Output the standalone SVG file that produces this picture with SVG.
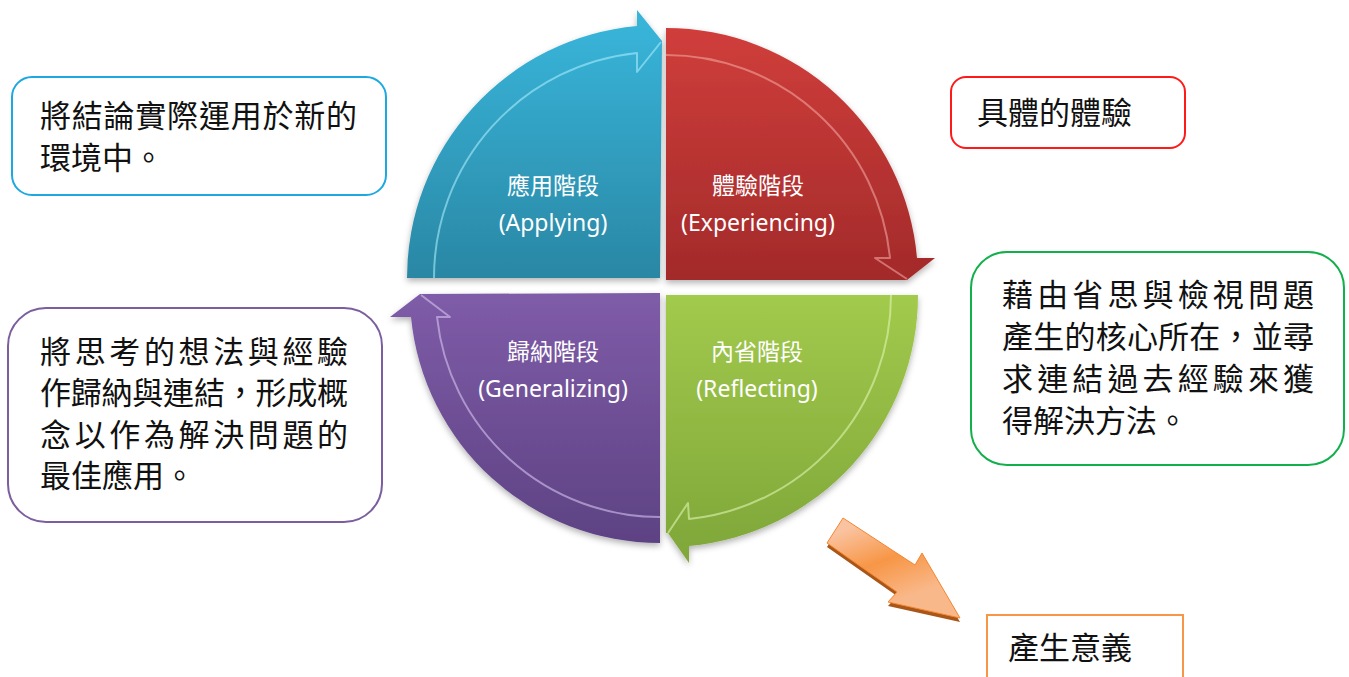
<svg xmlns="http://www.w3.org/2000/svg" width="1349" height="677" viewBox="0 0 1349 677">
<style>
.box{fill:#fff;stroke-width:2}
.bt{font-family:"Noto Sans CJK TC","Noto Sans CJK SC",sans-serif;font-size:31px;fill:#111}
.ql{font-family:"Noto Sans","Noto Sans CJK TC",sans-serif;font-size:23px;fill:#fff;text-anchor:middle}
.hl{fill:none;stroke-width:2;stroke-linejoin:round;opacity:0.6}
</style>
<defs>
<linearGradient id="gBlue" x1="0" y1="26" x2="0" y2="278" gradientUnits="userSpaceOnUse"><stop offset="0" stop-color="#38b4d9"/><stop offset="1" stop-color="#2a87a4"/></linearGradient>
<linearGradient id="gRed" x1="0" y1="28" x2="0" y2="280" gradientUnits="userSpaceOnUse"><stop offset="0" stop-color="#d03e3b"/><stop offset="1" stop-color="#a32a2a"/></linearGradient>
<linearGradient id="gPurple" x1="0" y1="293" x2="0" y2="545" gradientUnits="userSpaceOnUse"><stop offset="0" stop-color="#7f5ca8"/><stop offset="1" stop-color="#5d4283"/></linearGradient>
<linearGradient id="gGreen" x1="0" y1="295" x2="0" y2="547" gradientUnits="userSpaceOnUse"><stop offset="0" stop-color="#a2ca4c"/><stop offset="1" stop-color="#80a83a"/></linearGradient>
<linearGradient id="gOrange" x1="870" y1="520" x2="900" y2="600" gradientUnits="userSpaceOnUse"><stop offset="0" stop-color="#fac3a0"/><stop offset="0.5" stop-color="#f79646"/><stop offset="1" stop-color="#f9b88a"/></linearGradient>
<filter id="sh" x="-10%" y="-10%" width="120%" height="125%"><feDropShadow dx="0" dy="3" stdDeviation="3" flood-color="#000" flood-opacity="0.3"/></filter>
</defs>

<g id="node-applying">
<path d="M407,278 A253,253 0 0 1 637,26 L637,10 L662,41 L660,278 Z" fill="url(#gBlue)" filter="url(#sh)"/>
<path class="hl" stroke="#a8ecfb" d="M434,278 A226,226 0 0 1 637,53 L637,72 L661,42"/>
<text class="ql" x="553" y="194">應用階段</text>
<text class="ql" x="553" y="231">(Applying)</text>
</g>

<g id="node-experiencing">
<path d="M666,280 L666,28 A252,252 0 0 1 917,258 L935,258 L907,280 Z" fill="url(#gRed)" filter="url(#sh)"/>
<path class="hl" stroke="#f2a3a0" d="M666,55 A225,225 0 0 1 890,258 L875,258 L907,279"/>
<text class="ql" x="758" y="194">體驗階段</text>
<text class="ql" x="758" y="231">(Experiencing)</text>
</g>

<g id="node-generalizing">
<path d="M660,293 L660,543 A250,250 0 0 1 411,317 L390,317 L420,294 L660,293 Z" fill="url(#gPurple)" filter="url(#sh)"/>
<path class="hl" stroke="#d6c4f0" d="M660,517 A224,224 0 0 1 437,317 L450,317 L421,295"/>
<text class="ql" x="553" y="360">歸納階段</text>
<text class="ql" x="553" y="397">(Generalizing)</text>
</g>

<g id="node-reflecting">
<path d="M666,295 L918,295 A252,252 0 0 1 689,546 L689,563 L668,533 L666,533 Z" fill="url(#gGreen)" filter="url(#sh)"/>
<path class="hl" stroke="#e0f5b0" d="M891,295 A225,225 0 0 1 689,519 L688,503 L668,533"/>
<text class="ql" x="757" y="360">內省階段</text>
<text class="ql" x="757" y="397">(Reflecting)</text>
</g>

<g id="box-applying">
<rect class="box" x="12" y="77" width="374" height="118" rx="20" stroke="#1ea8e2"/>
<text class="bt" x="40" y="127" textLength="317" lengthAdjust="spacing">將結論實際運用於新的</text>
<text class="bt" x="40" y="169">環境中。</text>
</g>

<g id="box-experiencing">
<rect class="box" x="951" y="77" width="234" height="71" rx="15" stroke="#ff1a1a"/>
<text class="bt" x="977" y="124">具體的體驗</text>
</g>

<g id="box-reflecting">
<rect class="box" x="971" y="252" width="373" height="213" rx="36" stroke="#12b04c"/>
<text class="bt" x="1002" y="306" textLength="312" lengthAdjust="spacing">藉由省思與檢視問題</text>
<text class="bt" x="1002" y="348" textLength="312" lengthAdjust="spacing">產生的核心所在，並尋</text>
<text class="bt" x="1002" y="390" textLength="312" lengthAdjust="spacing">求連結過去經驗來獲</text>
<text class="bt" x="1002" y="432">得解決方法。</text>
</g>

<g id="box-generalizing">
<rect class="box" x="8" y="308" width="374" height="214" rx="38" stroke="#7b5e9e"/>
<text class="bt" x="40" y="363" textLength="308" lengthAdjust="spacing">將思考的想法與經驗</text>
<text class="bt" x="40" y="404" textLength="308" lengthAdjust="spacing">作歸納與連結，形成概</text>
<text class="bt" x="40" y="446" textLength="308" lengthAdjust="spacing">念以作為解決問題的</text>
<text class="bt" x="40" y="487">最佳應用。</text>
</g>

<g id="box-meaning">
<rect class="box" x="987" y="615" width="196" height="75" stroke="#f79646" stroke-width="2.5"/>
<text class="bt" x="1008" y="659">產生意義</text>
</g>

<g id="connectors">
<polygon points="843,522 915,569 922,557 960,622 888,606 897,596 827,547" fill="#a9561a"/>
<polygon points="843,518 915,565 922,553 960,618 888,602 897,592 827,543" fill="url(#gOrange)" stroke="#f4862f" stroke-width="1"/>
</g>
</svg>
